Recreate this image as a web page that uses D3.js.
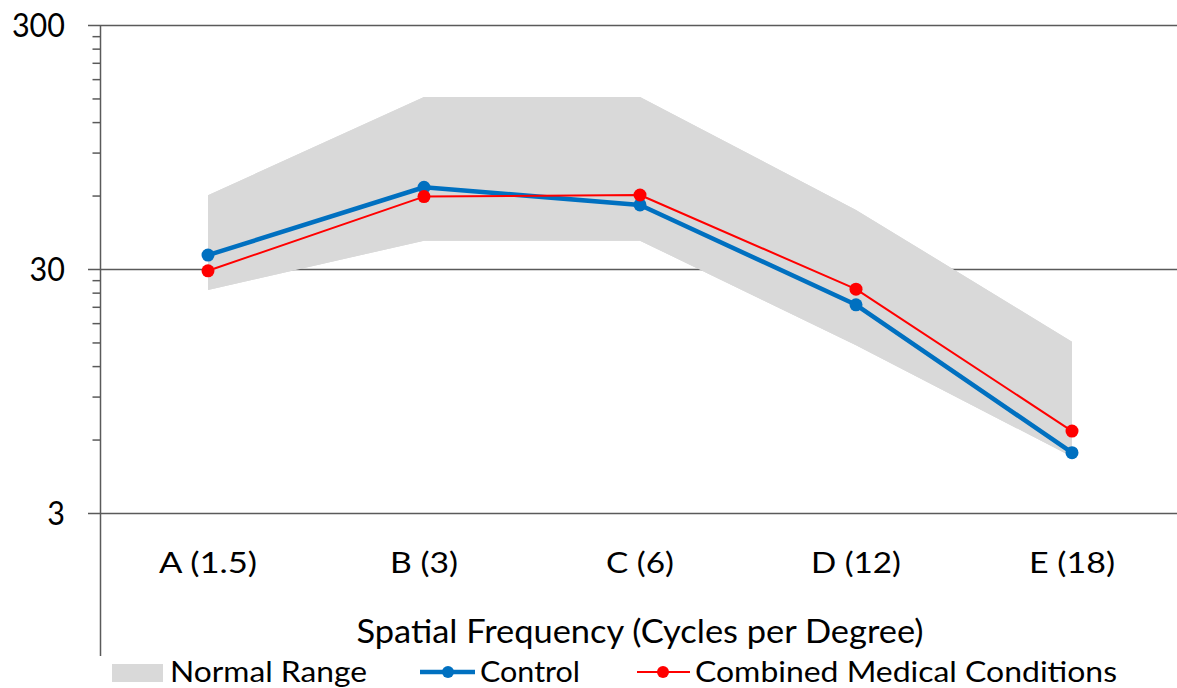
<!DOCTYPE html>
<html>
<head>
<meta charset="utf-8">
<script src="https://cdn.jsdelivr.net/npm/d3@7"></script>
<style>
html,body{margin:0;padding:0;background:#fff;}
svg{display:block;}
text{font-family:Lato,"Open Sans",sans-serif;fill:#000;}
</style>
</head>
<body>
<svg id="chart" width="1177" height="688"></svg>
<script>
const categories = ["A (1.5)", "B (3)", "C (6)", "D (12)", "E (18)"];
const control = [34.2, 64.9, 54.9, 21.4, 5.3];
const combined = [29.5, 59.4, 60.3, 24.8, 6.5];
const normalLow = [24.6, 39.2, 39.2, 14.6, 5.1];
const normalHigh = [60.2, 152, 152, 52.4, 15.1];
const yTickValues = [3, 30, 300];
const yTickLabels = ["3", "30", "300"];
const seriesNames = ["Normal Range", "Control", "Combined Medical Conditions"];
const axisTitle = "Spatial Frequency (Cycles per Degree)";

const svg = d3.select("#chart");
const x = d3.scaleBand().domain(categories).range([100, 1180]).paddingInner(0).paddingOuter(0);
const cx = c => x(c) + x.bandwidth() / 2;
const y = d3.scaleLog().domain([3, 300]).range([513, 25]);

const gridColor = "#5a5a5a";

// normal range band
const bandData = categories.map((c, i) => ({c, lo: normalLow[i], hi: normalHigh[i]}));
svg.append("path")
  .datum(bandData)
  .attr("fill", "#d9d9d9")
  .attr("d", d3.area().x(d => cx(d.c)).y0(d => y(d.lo)).y1(d => y(d.hi)));

// gridlines (drawn over the band like the reference)
svg.append("g").selectAll("line").data(yTickValues).join("line")
  .attr("x1", 88).attr("x2", 1177)
  .attr("y1", d => Math.round(y(d)) + 0.5).attr("y2", d => Math.round(y(d)) + 0.5)
  .attr("stroke", gridColor).attr("stroke-width", 1.5);

// redraw band over gridlines where band covers it (reference shows band over gridline)
svg.append("path")
  .datum(bandData)
  .attr("fill", "#d9d9d9")
  .attr("d", d3.area().x(d => cx(d.c)).y0(d => y(d.lo)).y1(d => y(d.hi)));

// y axis with minor ticks
const minorTicks = [];
[3, 30].forEach(base => { for (let k = 2; k <= 9; k++) minorTicks.push(base * k); });
const yAxis = svg.append("g").attr("transform", "translate(100.5,0)");
yAxis.call(d3.axisLeft(y).tickValues(minorTicks).tickSize(8).tickFormat(""));
yAxis.select(".domain").remove();
yAxis.selectAll(".tick line").attr("stroke", gridColor).attr("stroke-width", 1.5);
svg.append("line").attr("x1", 100.5).attr("x2", 100.5).attr("y1", 25).attr("y2", 656)
  .attr("stroke", gridColor).attr("stroke-width", 1.5);

// y tick labels
svg.append("g").selectAll("text").data(yTickValues).join("text")
  .attr("x", 65).attr("y", d => y(d) + 11.5)
  .attr("text-anchor", "end")
  .attr("font-size", 32)
  .attr("textLength", (d, i) => yTickLabels[i].length * 17.7)
  .attr("lengthAdjust", "spacingAndGlyphs")
  .text((d, i) => yTickLabels[i]);

// category labels
const catWidths = [98, 68, 68, 90, 86];
svg.append("g").selectAll("text").data(categories).join("text")
  .attr("x", d => cx(d)).attr("y", 573)
  .attr("text-anchor", "middle")
  .attr("font-size", 28)
  .attr("textLength", (d, i) => catWidths[i])
  .attr("lengthAdjust", "spacingAndGlyphs")
  .text(d => d);

// axis title
svg.append("text")
  .attr("x", 640).attr("y", 643)
  .attr("text-anchor", "middle")
  .attr("font-size", 32)
  .attr("textLength", 567).attr("lengthAdjust", "spacingAndGlyphs")
  .text(axisTitle);

// lines
const line = d3.line().x(d => cx(d.c)).y(d => y(d.v));
const ctrlData = categories.map((c, i) => ({c, v: control[i]}));
const combData = categories.map((c, i) => ({c, v: combined[i]}));

svg.append("path").datum(ctrlData).attr("d", line)
  .attr("fill", "none").attr("stroke", "#0070c0").attr("stroke-width", 4.5).attr("stroke-linejoin", "round");
svg.append("g").selectAll("circle").data(ctrlData).join("circle")
  .attr("cx", d => cx(d.c)).attr("cy", d => y(d.v)).attr("r", 6.5).attr("fill", "#0070c0");

svg.append("path").datum(combData).attr("d", line)
  .attr("fill", "none").attr("stroke", "#ff0000").attr("stroke-width", 2).attr("stroke-linejoin", "round");
svg.append("g").selectAll("circle").data(combData).join("circle")
  .attr("cx", d => cx(d.c)).attr("cy", d => y(d.v)).attr("r", 6.5).attr("fill", "#ff0000");

// legend
const lg = svg.append("g");
lg.append("rect").attr("x", 112).attr("y", 664).attr("width", 51).attr("height", 18).attr("fill", "#d9d9d9");
lg.append("text").attr("x", 170).attr("y", 682).attr("font-size", 28)
  .attr("textLength", 197).attr("lengthAdjust", "spacingAndGlyphs").text(seriesNames[0]);

lg.append("line").attr("x1", 420).attr("x2", 475).attr("y1", 672).attr("y2", 672)
  .attr("stroke", "#0070c0").attr("stroke-width", 4.5);
lg.append("circle").attr("cx", 448).attr("cy", 672).attr("r", 6).attr("fill", "#0070c0");
lg.append("text").attr("x", 480).attr("y", 682).attr("font-size", 28)
  .attr("textLength", 100).attr("lengthAdjust", "spacingAndGlyphs").text(seriesNames[1]);

lg.append("line").attr("x1", 637).attr("x2", 690).attr("y1", 672).attr("y2", 672)
  .attr("stroke", "#ff0000").attr("stroke-width", 2);
lg.append("circle").attr("cx", 663).attr("cy", 672).attr("r", 6).attr("fill", "#ff0000");
lg.append("text").attr("x", 695).attr("y", 682).attr("font-size", 28)
  .attr("textLength", 422).attr("lengthAdjust", "spacingAndGlyphs").text(seriesNames[2]);
</script>
</body>
</html>
